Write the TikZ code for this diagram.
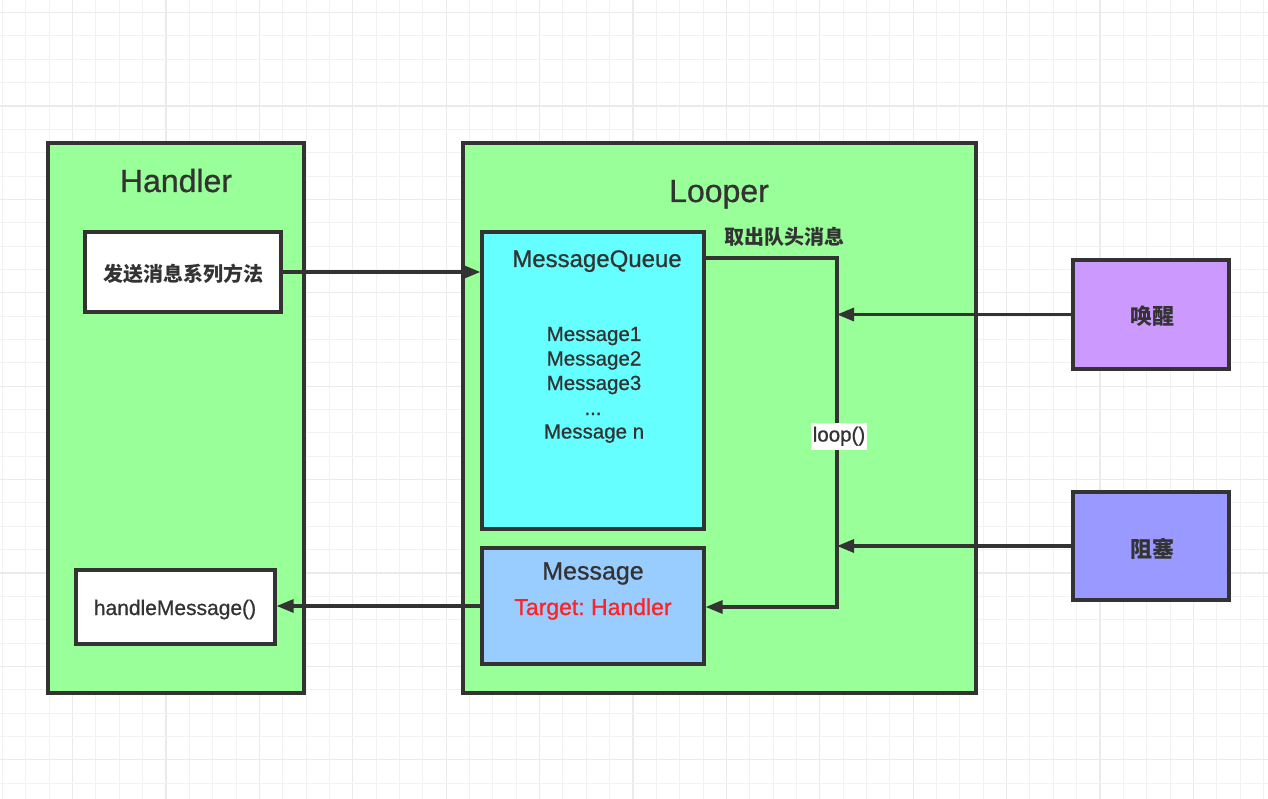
\documentclass[tikz,border=0pt]{standalone}
\usepackage{fontspec}
\setmainfont{Liberation Sans}
\newfontfamily\med{Liberation Sans}[FakeBold=0.8]
\newfontfamily\cjk{Noto Sans CJK SC}
\usetikzlibrary{arrows.meta}
\definecolor{ink}{HTML}{333333}
\definecolor{gfill}{HTML}{99FF99}
\definecolor{cfill}{HTML}{66FFFF}
\definecolor{mfill}{HTML}{99CCFF}
\definecolor{pfill}{HTML}{CC99FF}
\definecolor{bfill}{HTML}{9999FF}
\definecolor{redtxt}{HTML}{FF2222}
\definecolor{gminor}{HTML}{F2F2F2}
\definecolor{gmajor}{HTML}{EBEBEB}
\tikzset{
  box/.style={draw=ink, line width=3.2pt, rectangle, inner sep=0pt, text=ink},
  conn/.style={draw=ink, line width=3.2pt, -{Triangle[length=17pt,width=13pt]}},
  lbl/.style={inner sep=0pt, text=ink, anchor=base},
}
\begin{document}
\begin{tikzpicture}[x=1pt,y=-1pt]
\fill[white] (0,0) rectangle (1268,799);
\useasboundingbox (0,0) rectangle (1268,799);
% grid
\foreach \i in {0,...,56} {
  \pgfmathtruncatemacro{\r}{mod(\i,4)}
  \ifnum\r=0 \draw[gmajor, line width=1.1pt] ({-20.8+23.35*\i},0) -- ({-20.8+23.35*\i},799);
  \else \draw[gminor, line width=1pt] ({-20.8+23.35*\i},0) -- ({-20.8+23.35*\i},799); \fi}
\foreach \i in {0,...,38} {
  \pgfmathtruncatemacro{\r}{mod(\i,4)}
  \ifnum\r=0 \draw[gmajor, line width=1.1pt] (0,{-80.8+23.35*\i}) -- (1268,{-80.8+23.35*\i});
  \else \draw[gminor, line width=1pt] (0,{-80.8+23.35*\i}) -- (1268,{-80.8+23.35*\i}); \fi}

% containers
\node[box, fill=gfill, minimum width=256pt, minimum height=550pt] (handler) at (176,418) {};
\node[box, fill=gfill, minimum width=513pt, minimum height=550pt] (looper) at (719.5,418) {};
\node[lbl, font=\med\fontsize{32}{36}\selectfont] (htitle) at (176,192) {Handler};
\node[lbl, font=\med\fontsize{32}{36}\selectfont] (ltitle) at (719,202) {Looper};

% handler children
\node[box, fill=white, minimum width=196pt, minimum height=80pt] (send) at (183,272) {};
\node[inner sep=0pt, text=ink, font=\cjk\bfseries\fontsize{20}{22}\selectfont] (sendtxt) at (183.5,274) {发送消息系列方法};
\node[box, fill=white, minimum width=199pt, minimum height=74pt] (hm) at (175.5,607) {};
\node[lbl, font=\med\fontsize{21}{24}\selectfont] (hmtxt) at (175,615) {handleMessage()};

% looper children
\node[box, fill=cfill, minimum width=222pt, minimum height=297pt] (mq) at (593,380.5) {};
\node[lbl, font=\med\fontsize{24}{26}\selectfont] (mqtitle) at (597,267) {MessageQueue};
\node[lbl, font=\med\fontsize{20.5}{24}\selectfont] (m1) at (594,341) {Message1};
\node[lbl, font=\med\fontsize{20.5}{24}\selectfont] (m2) at (594,365.5) {Message2};
\node[lbl, font=\med\fontsize{20.5}{24}\selectfont] (m3) at (594,390) {Message3};
\node[lbl, font=\med\fontsize{20.5}{24}\selectfont] (m4) at (593,415) {...};
\node[lbl, font=\med\fontsize{20.5}{24}\selectfont] (m5) at (594,438.5) {Message n};

\node[box, fill=mfill, minimum width=222pt, minimum height=116pt] (msg) at (593,606) {};
\node[lbl, font=\med\fontsize{25}{28}\selectfont] (msgtitle) at (593,579.5) {Message};
\node[lbl, text=redtxt, font=\med\fontsize{23}{26}\selectfont] (msgtarget) at (593,615) {Target:\ Handler};

% outside
\node[box, fill=pfill, minimum width=156pt, minimum height=109pt] (wake) at (1151,314.5) {};
\node[inner sep=0pt, text=ink, font=\cjk\bfseries\fontsize{22}{26}\selectfont] (waketxt) at (1152,316.5) {唤醒};
\node[box, fill=bfill, minimum width=156pt, minimum height=108pt] (block) at (1151,546) {};
\node[inner sep=0pt, text=ink, font=\cjk\bfseries\fontsize{22}{26}\selectfont] (blocktxt) at (1152,548.5) {阻塞};

% loop path
\coordinate (lt) at (837,258);
\coordinate (lb) at (837,607);
\draw[conn] (mq.east |- lt) -- (lt) -- (lb) -- (msg.east |- lb);
\node[inner sep=0pt, text=ink, font=\cjk\bfseries\fontsize{20}{22}\selectfont] (takelbl) at (784,237) {取出队头消息};
\node[fill=white, inner xsep=2pt, inner ysep=4pt, text=ink, anchor=base, font=\med\fontsize{20.5}{24}\selectfont] (looplbl) at (839,441.5) {loop()};

% connectors
\draw[conn] (send.east) -- (send.east -| mq.west);
\draw[conn] (msg.west) -- (msg.west -| hm.east);
\draw[conn] (wake.west) -- (wake.west -| lt);
\draw[conn] (block.west) -- (block.west -| lt);
\end{tikzpicture}
\end{document}
